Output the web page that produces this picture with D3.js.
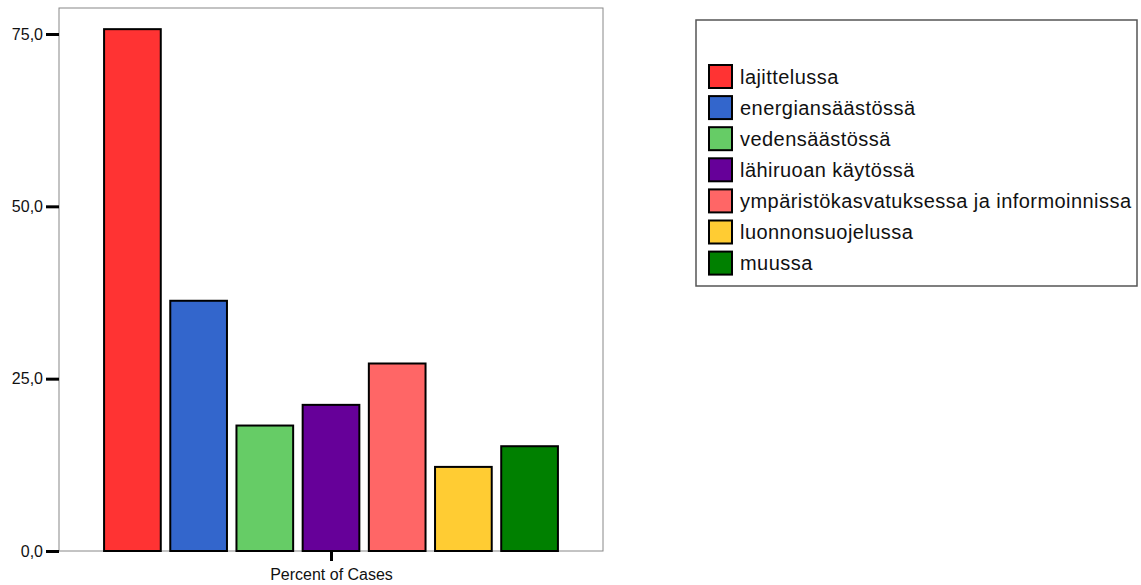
<!DOCTYPE html>
<html>
<head>
<meta charset="utf-8">
<script src="https://cdn.jsdelivr.net/npm/d3@7"></script>
<style>
  html, body { margin: 0; padding: 0; background: #fff; }
  svg { display: block; font-family: "Liberation Sans", Arial, sans-serif; }
</style>
</head>
<body>
<svg id="chart" width="1141" height="585"></svg>
<script>
// Categories (legend order) and their percentages of cases
const categories = [
  "lajittelussa",
  "energiansäästössä",
  "vedensäästössä",
  "lähiruoan käytössä",
  "ympäristökasvatuksessa ja informoinnissa",
  "luonnonsuojelussa",
  "muussa"
];
const percentValues = [75.7, 36.3, 18.2, 21.2, 27.2, 12.2, 15.2];
const barColors = ["#FF3333", "#3366CC", "#66CC66", "#660099", "#FF6666", "#FFCC33", "#008000"];
const yTicks = [0, 25, 50, 75];
const xLabel = ["Percent of Cases"];

const svg = d3.select("#chart");

// Plot frame
const plot = { left: 59, right: 603, top: 8, bottom: 551 };

const y = d3.scaleLinear().domain([0, 78.77]).range([plot.bottom, plot.top]);
const x = d3.scaleBand().domain(categories)
  .range([plot.left, plot.right])
  .paddingInner(0.1435)
  .paddingOuter(0.681);
const xCenter = d3.scalePoint().domain(xLabel)
  .range([plot.left, plot.right]).padding(0.5);

svg.append("rect")
  .attr("x", plot.left).attr("y", plot.top)
  .attr("width", plot.right - plot.left)
  .attr("height", plot.bottom - plot.top)
  .attr("fill", "#fff")
  .attr("stroke", "#888")
  .attr("stroke-width", 1);

// Bars
svg.append("g").selectAll("rect")
  .data(percentValues)
  .join("rect")
  .attr("x", (d, i) => x(categories[i]))
  .attr("y", d => y(d))
  .attr("width", x.bandwidth())
  .attr("height", d => y(0) - y(d))
  .attr("fill", (d, i) => barColors[i])
  .attr("stroke", "#000")
  .attr("stroke-width", 2);

// Y axis
const fmt = d => d3.format(".1f")(d).replace(".", ",");
const yAxis = svg.append("g")
  .attr("transform", `translate(${plot.left},0)`)
  .call(d3.axisLeft(y).tickValues(yTicks).tickFormat(fmt).tickSize(13).tickPadding(3));
yAxis.select(".domain").remove();
yAxis.selectAll(".tick line").attr("stroke", "#000").attr("stroke-width", 3);
yAxis.selectAll(".tick text")
  .attr("fill", "#111")
  .style("font-size", "16px")
  .style("font-family", "'Liberation Sans', Arial, sans-serif");

// X axis (single group label)
const xAxis = svg.append("g")
  .attr("transform", `translate(0,${plot.bottom})`)
  .call(d3.axisBottom(xCenter).tickSize(10).tickPadding(8));
xAxis.select(".domain").remove();
xAxis.selectAll(".tick line").attr("stroke", "#000").attr("stroke-width", 3);
xAxis.selectAll(".tick text")
  .attr("fill", "#111")
  .style("font-size", "16px")
  .style("font-family", "'Liberation Sans', Arial, sans-serif");

// Legend
const legend = { x: 696, y: 20, w: 441, h: 266 };
svg.append("rect")
  .attr("x", legend.x).attr("y", legend.y)
  .attr("width", legend.w).attr("height", legend.h)
  .attr("fill", "#fff")
  .attr("stroke", "#555")
  .attr("stroke-width", 1.5);

const rowY0 = 65, rowStep = 31.1, sw = 23;
const rows = svg.append("g").selectAll("g")
  .data(categories)
  .join("g")
  .attr("transform", (d, i) => `translate(709,${rowY0 + i * rowStep})`);
rows.append("rect")
  .attr("width", sw).attr("height", sw)
  .attr("fill", (d, i) => barColors[i])
  .attr("stroke", "#000")
  .attr("stroke-width", 2);
rows.append("text")
  .attr("x", 31)
  .attr("y", sw / 2 + 7)
  .attr("fill", "#111")
  .style("font-size", "20px")
  .style("letter-spacing", "0.45px")
  .text(d => d);
</script>
</body>
</html>
